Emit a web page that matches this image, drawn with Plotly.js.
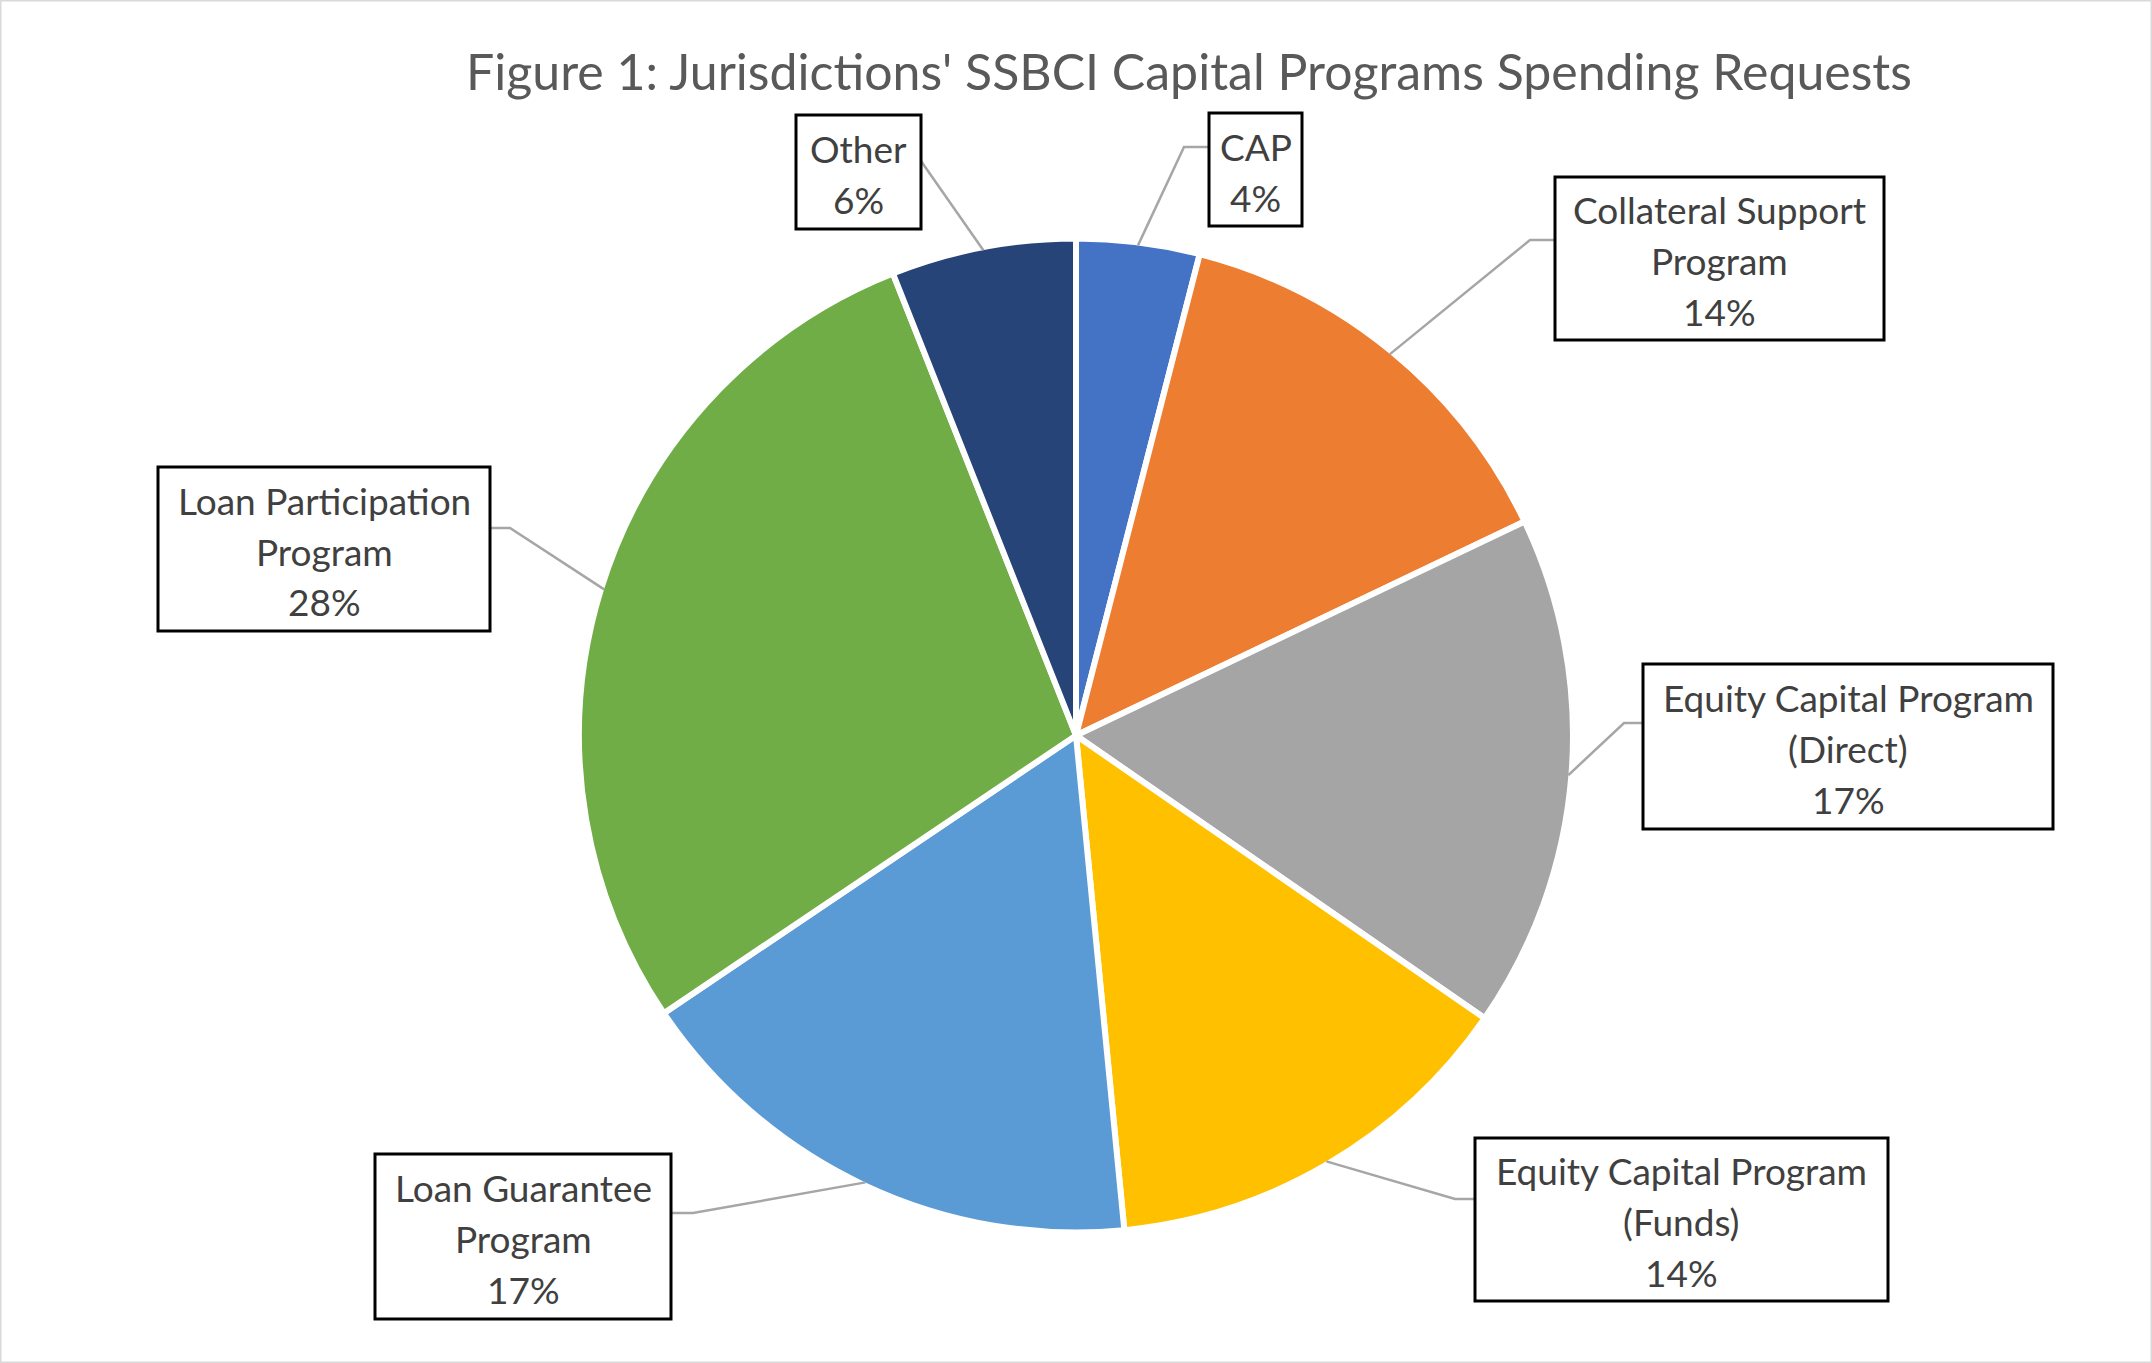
<!DOCTYPE html>
<html>
<head>
<meta charset="utf-8">
<script src="https://cdn.plot.ly/plotly-3.0.1.min.js"></script>
<style>
  html, body { margin: 0; padding: 0; background: #fff; }
  #chart { width: 2152px; height: 1363px; }
</style>
</head>
<body>
<div id="chart"></div>
<script>
// slices, clockwise from 12 o'clock
const categories = ["CAP", "Collateral Support Program", "Equity Capital Program (Direct)",
    "Equity Capital Program (Funds)", "Loan Guarantee Program", "Loan Participation Program", "Other"];
const labelLines = [["CAP"], ["Collateral Support", "Program"], ["Equity Capital Program", "(Direct)"],
    ["Equity Capital Program", "(Funds)"], ["Loan Guarantee", "Program"], ["Loan Participation", "Program"], ["Other"]];
const shares = [4.0, 13.9, 16.7, 13.8, 17.1, 28.4, 6.0];
const colors = ["#4472C4", "#ED7D31", "#A5A5A5", "#FFC000", "#5B9BD5", "#70AD47", "#264478"];

// page geometry (pixels)
const W = 2152, H = 1363;
const cx = 1076, cy = 735.5, R = 494, gap = 6;
const linePitch = 51;

// label boxes [left, top, right, bottom] and leader elbows, same order as categories
const boxes = [
    [1209, 113, 1302, 226],
    [1555, 177, 1884, 340],
    [1643, 664, 2053, 829],
    [1475, 1138, 1888, 1301],
    [375, 1154, 671, 1319],
    [158, 467, 490, 631],
    [796, 115, 921, 229]
];
const elbows = [[1184, 147], [1530, 240], [1624, 723], [1455, 1199], [693, 1213], [510, 528], [921, 161]];

const px = x => x / W;
const py = y => 1 - y / H;

const total = shares.reduce((a, b) => a + b, 0);
const shapes = [];
const annotations = [];

let cum = 0;
shares.forEach((v, i) => {
    const mid = (cum + v / 2) / total * 2 * Math.PI;
    cum += v;
    const sx = cx + R * Math.sin(mid);
    const sy = cy - R * Math.cos(mid);
    const b = boxes[i];
    const [ex, ey] = elbows[i];
    const ax = ex > cx ? b[0] : b[2];
    shapes.push({
        type: "path", xref: "paper", yref: "paper", layer: "above",
        path: `M ${px(sx)} ${py(sy)} L ${px(ex)} ${py(ey)} L ${px(ax)} ${py(ey)}`,
        line: { color: "#A6A6A6", width: 2.5 }
    });
    shapes.push({
        type: "rect", xref: "paper", yref: "paper", layer: "above",
        x0: px(b[0]), x1: px(b[2]), y0: py(b[1]), y1: py(b[3]),
        fillcolor: "#FFFFFF", line: { color: "#000000", width: 3 }
    });
    const lines = labelLines[i].concat([Math.round(v / total * 100) + "%"]);
    const mx = (b[0] + b[2]) / 2, my = (b[1] + b[3]) / 2 + 2;
    lines.forEach((t, k) => {
        annotations.push({
            xref: "paper", yref: "paper", showarrow: false,
            x: px(mx), y: py(my + (k - (lines.length - 1) / 2) * linePitch),
            xanchor: "center", yanchor: "middle",
            text: t, font: { family: "Lato, sans-serif", size: 37, color: "#404040" }
        });
    });
});

// light frame round the chart
shapes.push({
    type: "rect", xref: "paper", yref: "paper", x0: 0, x1: 1, y0: 0, y1: 1,
    line: { color: "#D9D9D9", width: 3 }, layer: "below"
});

const data = [{
    type: "pie",
    labels: categories,
    values: shares,
    sort: false,
    direction: "clockwise",
    rotation: 0,
    textinfo: "none",
    marker: { colors: colors, line: { color: "#FFFFFF", width: gap } },
    domain: {
        x: [px(cx - R - gap / 2), px(cx + R + gap / 2)],
        y: [py(cy + R + gap / 2), py(cy - R - gap / 2)]
    },
    showlegend: false
}];

const layout = {
    width: W, height: H,
    margin: { l: 0, r: 0, t: 0, b: 0 },
    paper_bgcolor: "#FFFFFF",
    title: {
        text: "Figure 1: Jurisdictions' SSBCI Capital Programs Spending Requests",
        font: { family: "Lato, sans-serif", size: 50, color: "#595959" },
        x: 1189 / W, xanchor: "center", xref: "paper",
        y: 1 - 72 / H, yanchor: "middle", yref: "container"
    },
    shapes: shapes,
    annotations: annotations,
    showlegend: false
};

Plotly.newPlot("chart", data, layout, { staticPlot: true });
</script>
</body>
</html>
